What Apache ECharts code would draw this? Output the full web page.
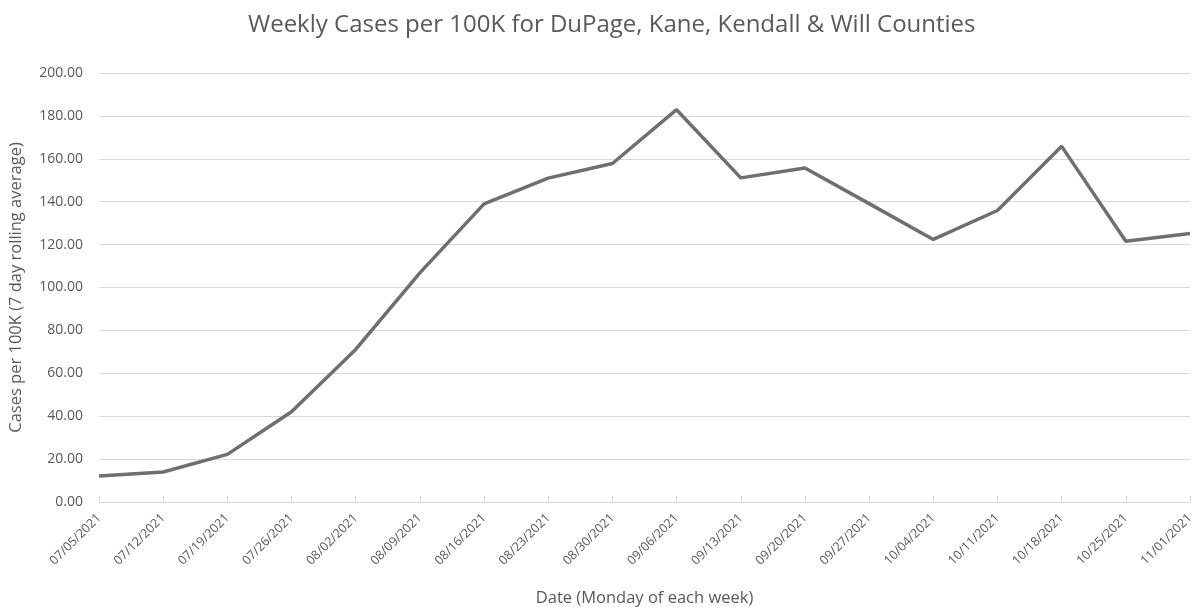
<!DOCTYPE html>
<html>
<head>
<meta charset="utf-8">
<script src="https://cdn.jsdelivr.net/npm/echarts@6/dist/echarts.min.js"></script>
<style>
  html, body { margin: 0; padding: 0; background: #fff; }
  #chart { width: 1196px; height: 607px; }
</style>
</head>
<body>
<div id="chart"></div>
<script>
// week start dates (Monday)
const weeks = [
  "07/05/2021", "07/12/2021", "07/19/2021", "07/26/2021", "08/02/2021",
  "08/09/2021", "08/16/2021", "08/23/2021", "08/30/2021", "09/06/2021",
  "09/13/2021", "09/20/2021", "09/27/2021", "10/04/2021", "10/11/2021",
  "10/18/2021", "10/25/2021", "11/01/2021"
];
// cases per 100K, 7 day rolling average
const casesPer100K = [
  12.1, 14.0, 22.2, 42.1, 71.1, 106.8, 139.0, 151.0, 157.8, 182.9,
  151.1, 155.7, 139.1, 122.4, 135.9, 165.8, 121.6, 125.2
];
const yMin = 0;
const yMax = 200;
const yStep = 20;

const textGray = "#595959";
const font = "'Open Sans', sans-serif";

const chart = echarts.init(document.getElementById("chart"));
chart.setOption({
  animation: false,
  title: {
    text: "Weekly Cases per 100K for DuPage, Kane, Kendall & Will Counties",
    left: 243,
    top: 8,
    textStyle: { color: textGray, fontFamily: font, fontSize: 24, fontWeight: "normal" }
  },
  grid: { left: 99, right: 6, top: 73, bottom: 105, outerBoundsMode: "none" },
  xAxis: {
    type: "category",
    data: weeks,
    boundaryGap: false,
    name: "Date (Monday of each week)",
    nameLocation: "middle",
    nameGap: 88,
    nameTextStyle: { color: textGray, fontFamily: font, fontSize: 16.5 },
    axisLine: { lineStyle: { color: "#d9d9d9", width: 1 } },
    axisTick: { show: true, inside: true, length: 6, alignWithLabel: true, lineStyle: { color: "#d9d9d9" } },
    axisLabel: {
      interval: 0,
      rotate: 45,
      color: textGray,
      fontFamily: font,
      fontSize: 12.5,
      margin: 14
    }
  },
  yAxis: {
    type: "value",
    min: yMin,
    max: yMax,
    interval: yStep,
    name: "Cases per 100K (7 day rolling average)",
    nameLocation: "middle",
    nameGap: 74,
    nameTextStyle: { color: textGray, fontFamily: font, fontSize: 16.5 },
    axisLine: { show: false },
    axisTick: { show: false },
    axisLabel: {
      color: textGray,
      fontFamily: font,
      fontSize: 14,
      margin: 16,
      formatter: (v) => v.toFixed(2)
    },
    splitLine: { lineStyle: { color: "#d9d9d9", width: 1 } }
  },
  series: [
    {
      type: "line",
      data: casesPer100K,
      symbol: "none",
      lineStyle: { color: "#6f6f6f", width: 3.5 },
      itemStyle: { color: "#6f6f6f" }
    }
  ]
});
</script>
</body>
</html>
